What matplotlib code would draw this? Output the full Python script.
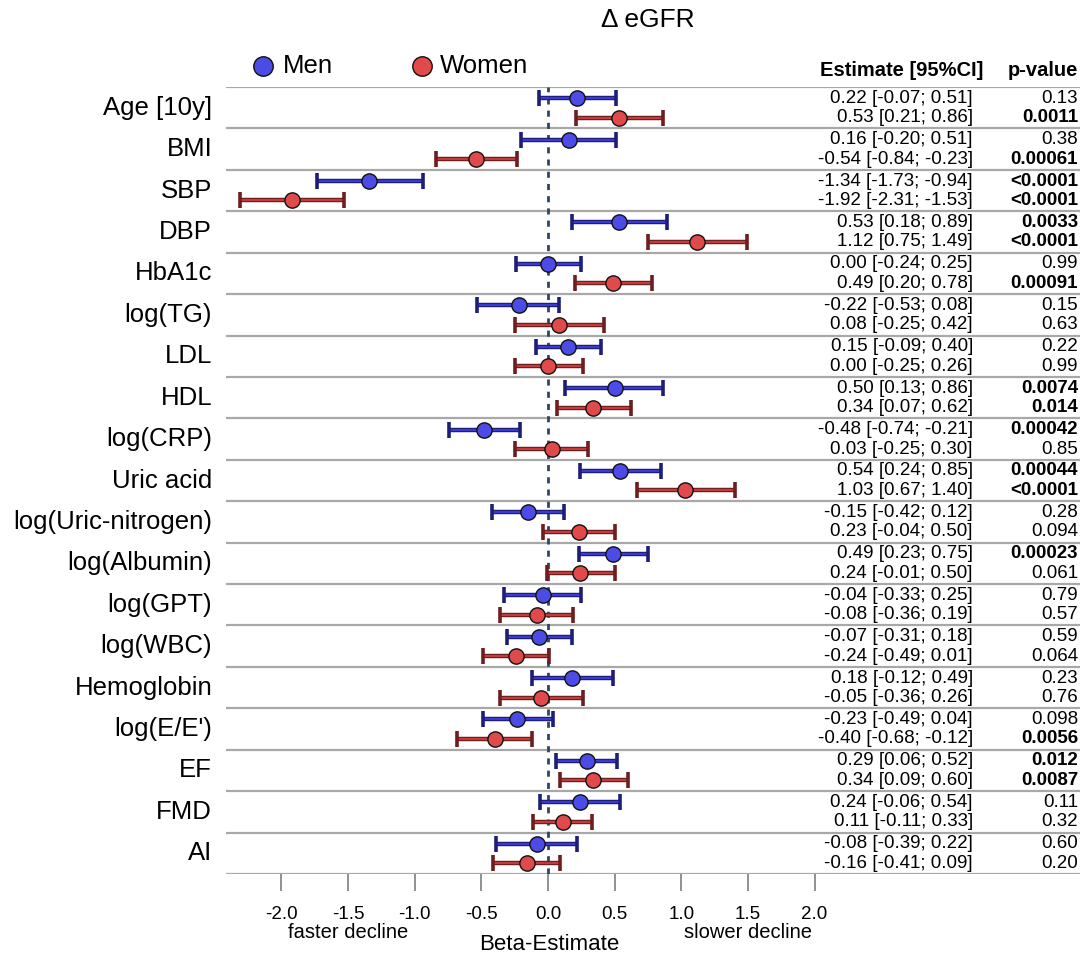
import numpy as np
import matplotlib as mpl
import matplotlib.pyplot as plt
from matplotlib.transforms import blended_transform_factory

mpl.rcParams['font.family'] = ['Liberation Sans', 'DejaVu Sans']

labels = ['Age [10y]', 'BMI', 'SBP', 'DBP', 'HbA1c', 'log(TG)', 'LDL', 'HDL',
          'log(CRP)', 'Uric acid', 'log(Uric-nitrogen)', 'log(Albumin)',
          'log(GPT)', 'log(WBC)', 'Hemoglobin', "log(E/E')", 'EF', 'FMD', 'AI']

men_est = [0.22, 0.16, -1.34, 0.53, 0.00, -0.22, 0.15, 0.50, -0.48, 0.54,
           -0.15, 0.49, -0.04, -0.07, 0.18, -0.23, 0.29, 0.24, -0.08]
men_lo = [-0.07, -0.20, -1.73, 0.18, -0.24, -0.53, -0.09, 0.13, -0.74, 0.24,
          -0.42, 0.23, -0.33, -0.31, -0.12, -0.49, 0.06, -0.06, -0.39]
men_hi = [0.51, 0.51, -0.94, 0.89, 0.25, 0.08, 0.40, 0.86, -0.21, 0.85,
          0.12, 0.75, 0.25, 0.18, 0.49, 0.04, 0.52, 0.54, 0.22]
men_p = ['0.13', '0.38', '<0.0001', '0.0033', '0.99', '0.15', '0.22', '0.0074',
         '0.00042', '0.00044', '0.28', '0.00023', '0.79', '0.59', '0.23', '0.098',
         '0.012', '0.11', '0.60']

women_est = [0.53, -0.54, -1.92, 1.12, 0.49, 0.08, 0.00, 0.34, 0.03, 1.03,
             0.23, 0.24, -0.08, -0.24, -0.05, -0.40, 0.34, 0.11, -0.16]
women_lo = [0.21, -0.84, -2.31, 0.75, 0.20, -0.25, -0.25, 0.07, -0.25, 0.67,
            -0.04, -0.01, -0.36, -0.49, -0.36, -0.68, 0.09, -0.11, -0.41]
women_hi = [0.86, -0.23, -1.53, 1.49, 0.78, 0.42, 0.26, 0.62, 0.30, 1.40,
            0.50, 0.50, 0.19, 0.01, 0.26, -0.12, 0.60, 0.33, 0.09]
women_p = ['0.0011', '0.00061', '<0.0001', '<0.0001', '0.00091', '0.63', '0.99',
           '0.014', '0.85', '<0.0001', '0.094', '0.061', '0.57', '0.064', '0.76',
           '0.0056', '0.0087', '0.32', '0.20']

xticks = [-2.0, -1.5, -1.0, -0.5, 0.0, 0.5, 1.0, 1.5, 2.0]

men_fill, men_line, men_dark = '#4b4be6', '#3a3ad0', '#1e1e78'
wom_fill, wom_line, wom_dark = '#e04a4a', '#c03c3c', '#6e1e1e'


def fmt(e, lo, hi):
    def f(v):
        return f'{v:.2f}'.replace('-0.00', '0.00')
    return f'{f(e)} [{f(lo)}; {f(hi)}]'


def is_sig(p):
    return p.startswith('<') or float(p) < 0.05


fig = plt.figure(figsize=(10.9, 9.55), dpi=100)
ax = fig.add_axes([226 / 1090, 1 - 874 / 955, 854 / 1090, 787 / 955])

n = len(labels)
ax.set_xlim(-2.416, 3.992)
ax.set_ylim(n, 0)

y_men = np.arange(n) + 0.27
y_wom = np.arange(n) + 0.74


def draw(y, est, lo, hi, fill, line, dark):
    est, lo, hi = map(np.asarray, (est, lo, hi))
    ax.hlines(y, lo, hi, color=dark, lw=3.2, zorder=3)
    ax.hlines(y, lo, hi, color=line, lw=1.5, zorder=4)
    ax.plot(lo, y, ls='none', marker='|', ms=11.5, mew=2.6, color=dark, zorder=4)
    ax.plot(hi, y, ls='none', marker='|', ms=11.5, mew=2.6, color=dark, zorder=4)
    ax.plot(est, y, ls='none', marker='o', ms=11, mfc=fill, mec='#111111',
            mew=1.0, zorder=5)


# separators
for i in range(n + 1):
    ax.axhline(i, color='#a8a8a8', lw=1.6, zorder=1)

ax.axvline(0, color='#2c4663', lw=2.0, ls=(0, (2.2, 2.2)), zorder=2)

draw(y_men, men_est, men_lo, men_hi, men_fill, men_line, men_dark)
draw(y_wom, women_est, women_lo, women_hi, wom_fill, wom_line, wom_dark)

for s in ax.spines.values():
    s.set_visible(False)
ax.set_yticks([])
ax.set_xticks(xticks)
ax.set_xticklabels([f'{t:.1f}' for t in xticks], fontsize=13.5)
ax.tick_params(axis='x', length=12, width=1.3, color='#888888', pad=11)

# row labels
for i, lab in enumerate(labels):
    ax.text(-2.52, i + 0.5, lab, ha='right', va='center', fontsize=18.5,
            clip_on=False)

# table
tr = blended_transform_factory(fig.transFigure, ax.transData)
for i in range(n):
    ax.text(973 / 1090, y_men[i], fmt(men_est[i], men_lo[i], men_hi[i]),
            transform=tr, ha='right', va='center', fontsize=13.5)
    ax.text(973 / 1090, y_wom[i], fmt(women_est[i], women_lo[i], women_hi[i]),
            transform=tr, ha='right', va='center', fontsize=13.5)
    ax.text(1078 / 1090, y_men[i], men_p[i], transform=tr, ha='right',
            va='center', fontsize=13.5,
            fontweight='bold' if is_sig(men_p[i]) else 'normal')
    ax.text(1078 / 1090, y_wom[i], women_p[i], transform=tr, ha='right',
            va='center', fontsize=13.5,
            fontweight='bold' if is_sig(women_p[i]) else 'normal')

fig.text(983 / 1090, 1 - 71 / 955, 'Estimate [95%CI]', ha='right', va='center',
         fontsize=14.5, fontweight='bold')
fig.text(1078 / 1090, 1 - 71 / 955, 'p-value', ha='right', va='center',
         fontsize=14.5, fontweight='bold')

# title
fig.text(648 / 1090, 1 - 20 / 955, '\u0394 eGFR', ha='center', va='center',
         fontsize=19)

# legend
fig.add_artist(mpl.lines.Line2D([263 / 1090], [1 - 66 / 955], marker='o', ms=14,
                                mfc=men_fill, mec='#111111', mew=1.0,
                                transform=fig.transFigure))
fig.text(283 / 1090, 1 - 66 / 955, 'Men', ha='left', va='center', fontsize=18.5)
fig.add_artist(mpl.lines.Line2D([422 / 1090], [1 - 66 / 955], marker='o', ms=14,
                                mfc=wom_fill, mec='#111111', mew=1.0,
                                transform=fig.transFigure))
fig.text(440 / 1090, 1 - 66 / 955, 'Women', ha='left', va='center', fontsize=18.5)

# axis captions
fig.text(348 / 1090, 1 - 932 / 955, 'faster decline', ha='center', va='center',
         fontsize=14.5)
fig.text(748 / 1090, 1 - 932 / 955, 'slower decline', ha='center', va='center',
         fontsize=14.5)
fig.text(549 / 1090, 1 - 944 / 955, 'Beta-Estimate', ha='center', va='center',
         fontsize=16)

fig.savefig('out.png', dpi=100)
